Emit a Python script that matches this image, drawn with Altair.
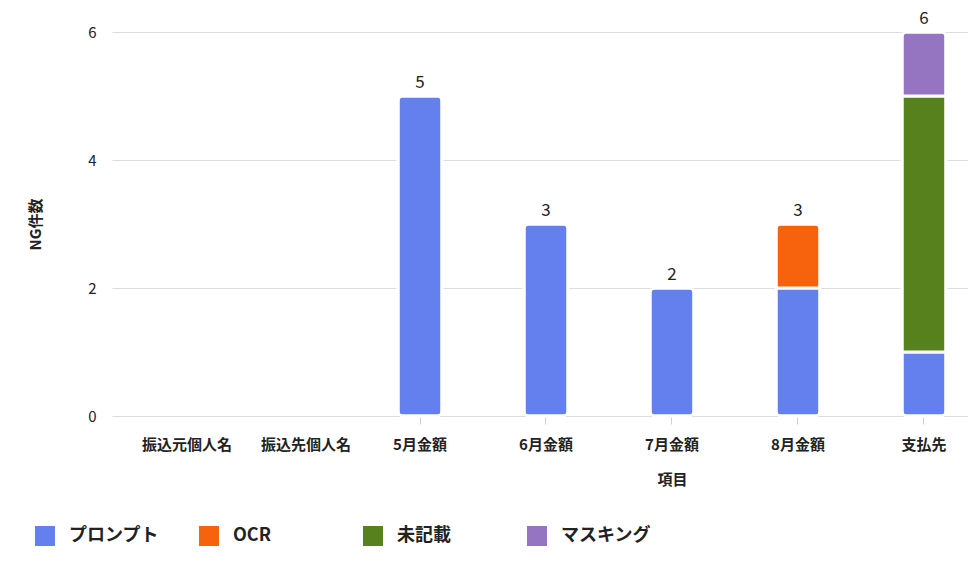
import altair as alt
import pandas as pd

categories = ["振込元個人名", "振込先個人名", "5月金額", "6月金額", "7月金額", "8月金額", "支払先"]
series = ["プロンプト", "OCR", "未記載", "マスキング"]
colors = ["#6380EE", "#F7630C", "#57811C", "#9575C2"]
prompt_vals = [0, 0, 5, 3, 2, 2, 1]
ocr_vals = [0, 0, 0, 0, 0, 1, 0]
mikisai_vals = [0, 0, 0, 0, 0, 0, 4]
masking_vals = [0, 0, 0, 0, 0, 0, 1]
y_ticks = [0, 2, 4, 6]

rows = []
for s_i, (name, vals) in enumerate(zip(series, [prompt_vals, ocr_vals, mikisai_vals, masking_vals])):
    for c, v in zip(categories, vals):
        rows.append({"項目": c, "種類": name, "NG件数": v, "順": s_i})
df = pd.DataFrame(rows)
df_bars = df[df["NG件数"] > 0]
totals = df.groupby("項目", as_index=False)["NG件数"].sum()
totals = totals[totals["NG件数"] > 0]

FONT = "Noto Sans CJK JP"
x_scale = alt.Scale(domain=categories, paddingInner=0.651, paddingOuter=0.2225, align=0.607)

label_offset = {"condition": [{"test": "datum.value == '振込元個人名'", "value": 19},
                              {"test": "datum.value == '振込先個人名'", "value": 12}],
                "value": 0}
tick_opacity = {"condition": {"test": "datum.value == '振込元個人名' || datum.value == '振込先個人名'", "value": 0},
                "value": 1}

x = alt.X("項目:N", sort=categories, scale=x_scale,
          axis=alt.Axis(labelAngle=0, labelFontSize=15, labelFontWeight="bold", labelColor="#222",
                        labelPadding=13, tickSize=8, tickColor="#d0d0d0", domain=False,
                        labelOffset=label_offset, tickOpacity=tick_opacity,
                        title="項目", titleFontSize=15, titleFontWeight="bold", titleColor="#222",
                        titlePadding=20, titleX=560))
y_scale = alt.Scale(domain=[0, 6])

bars = alt.Chart(df_bars).mark_bar(cornerRadius=5, stroke="white", strokeWidth=3).encode(
    x=x,
    y=alt.Y("NG件数:Q", scale=y_scale,
            axis=alt.Axis(values=y_ticks, format="d", labelFontSize=15, labelColor="#222",
                          labelPadding=16, tickSize=0, domain=False, gridColor="#dddddd",
                          title="NG件数", titleFontSize=15, titleFontWeight="bold", titleColor="#222",
                          titlePadding=44)),
    color=alt.Color("種類:N", sort=series,
                    scale=alt.Scale(domain=series, range=colors),
                    legend=alt.Legend(orient="none", legendX=-77, legendY=494, direction="horizontal",
                                      columns=4, gridAlign="all", columnPadding=40, title=None,
                                      symbolType="square", symbolSize=400, symbolStrokeWidth=0,
                                      symbolOpacity=1, labelFontSize=18, labelFontWeight="bold",
                                      labelColor="#222", labelOffset=14, labelFont=FONT)),
    order=alt.Order("順:Q"),
)

text = alt.Chart(totals).mark_text(dy=-8, fontSize=17, color="#222", baseline="alphabetic", font=FONT).encode(
    x=alt.X("項目:N", sort=categories),
    y=alt.Y("NG件数:Q"),
    text=alt.Text("NG件数:Q"),
)

chart = (bars + text).properties(
    width=856, height=384,
    autosize=alt.AutoSizeParams(type="none"),
    padding={"left": 104, "top": 24, "right": 0, "bottom": 142},
).configure(font=FONT).configure_view(stroke=None).configure_axis(labelFont=FONT, titleFont=FONT)

chart.save("out.html", embed_options={"renderer": "svg", "actions": False})
